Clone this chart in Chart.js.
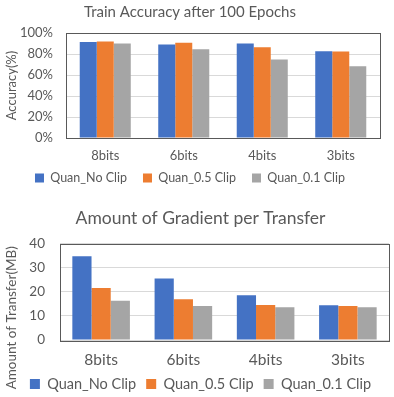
<!DOCTYPE html>
<html><head><meta charset="utf-8">
<script src="https://cdn.jsdelivr.net/npm/chart.js@4/dist/chart.umd.min.js"></script>
<style>
html,body{margin:0;padding:0;background:#fff;}
#w1{position:absolute;left:0;top:0;width:394px;height:200px;}
#w2{position:absolute;left:0;top:200px;width:394px;height:197px;}
</style></head><body>
<div id="w1"><canvas id="c1"></canvas></div>
<div id="w2"><canvas id="c2"></canvas></div>
<script>
const categories = ['8bits','6bits','4bits','3bits'];
const seriesNames = ['Quan_No Clip','Quan_0.5 Clip','Quan_0.1 Clip'];
const colors = ['#4472C4','#ED7D31','#A5A5A5'];
const accNoClip = [91.4, 89.0, 90.0, 82.6];
const acc05Clip = [91.8, 90.8, 86.4, 82.3];
const acc01Clip = [89.9, 84.5, 74.7, 68.3];
const mbNoClip = [34.7, 25.5, 18.6, 14.4];
const mb05Clip = [21.6, 16.9, 14.5, 14.1];
const mb01Clip = [16.3, 14.1, 13.6, 13.6];
const accTicks = [0, 20, 40, 60, 80, 100];
const mbTicks = [0, 10, 20, 30, 40];

const txt = '#595959';
const FF = 'Lato, "Noto Sans", sans-serif';

const framePlugin = {
  id: 'frame',
  afterDraw(chart) {
    const a = chart.chartArea, ctx = chart.ctx;
    ctx.save();
    ctx.strokeStyle = '#595959';
    ctx.lineWidth = 1;
    ctx.strokeRect(Math.round(a.left) + 0.5, Math.round(a.top) + 0.5, Math.round(a.right - a.left), Math.round(a.bottom - a.top));
    const o = chart.options.plugins.frame || {};
    if (o.ytitle) {
      ctx.translate(o.tx, a.top + (a.bottom - a.top) / 2 + o.dy);
      ctx.rotate(-Math.PI / 2);
      ctx.fillStyle = txt;
      ctx.font = o.font;
      ctx.textAlign = 'center';
      ctx.textBaseline = 'middle';
      ctx.fillText(o.ytitle, 0, 0);
    }
    ctx.restore();
  }
};

function ds(a, b, c, cp) {
  return [a, b, c].map((d, i) => ({
    label: seriesNames[i], data: d, backgroundColor: colors[i],
    borderWidth: 0, barPercentage: 1, categoryPercentage: cp
  }));
}
function fixX(h) {
  return s => { s.height = h; s._computeLabelArea = () => undefined; };
}

new Chart(document.getElementById('c1'), {
  type: 'bar',
  data: { labels: categories, datasets: ds(accNoClip, acc05Clip, acc01Clip, 0.65) },
  options: {
    responsive: true, maintainAspectRatio: false, animation: false,
    layout: { padding: { left: 0, right: 14, top: 0, bottom: 5.75 } },
    plugins: {
      title: { display: true, text: 'Train Accuracy after 100 Epochs', color: txt, font: { family: FF, size: 15, weight: 'normal' }, padding: { top: 3, bottom: 12 } },
      legend: { position: 'bottom', labels: { color: txt, boxWidth: 9, boxHeight: 9, padding: 16, font: { family: FF, size: 12.5 } } },
      tooltip: { enabled: false },
      frame: {}
    },
    scales: {
      x: {
        grid: { display: false, drawTicks: false }, border: { display: false },
        ticks: { color: txt, font: { family: FF, size: 13 }, padding: 10, autoSkip: false, maxRotation: 0 },
        afterFit: fixX(17.75)
      },
      y: {
        min: 0, max: 100,
        afterBuildTicks: s => { s.ticks = accTicks.map(v => ({ value: v })); },
        afterFit: s => { s.width = 66; },
        ticks: { color: txt, font: { family: FF, size: 13 }, callback: v => v + '%', padding: 13, autoSkip: false },
        grid: { color: '#D9D9D9', drawTicks: false },
        border: { display: false },
        title: { display: true, text: 'Accuracy(%)', color: txt, font: { family: FF, size: 13 }, padding: { top: 4, bottom: 0 } }
      }
    }
  },
  plugins: [framePlugin]
});

new Chart(document.getElementById('c2'), {
  type: 'bar',
  data: { labels: categories, datasets: ds(mbNoClip, mb05Clip, mb01Clip, 0.70) },
  options: {
    responsive: true, maintainAspectRatio: false, animation: false,
    layout: { padding: { left: 12, right: 5, top: 0, bottom: 0 } },
    plugins: {
      title: { display: true, text: 'Amount of Gradient per Transfer', color: txt, font: { family: FF, size: 17.5, weight: 'normal' }, padding: { top: 7.5, bottom: 15 } },
      legend: { position: 'bottom', maxHeight: 30.25, labels: { color: txt, boxWidth: 10, boxHeight: 10, padding: 10, font: { family: FF, size: 14.5 } } },
      tooltip: { enabled: false },
      frame: { ytitle: 'Amount of Transfer(MB)', tx: 12, dy: 26, font: '13.5px ' + FF }
    },
    scales: {
      x: {
        grid: { display: false, drawTicks: false }, border: { display: false },
        ticks: { color: txt, font: { family: FF, size: 15.5 }, padding: 10.7, autoSkip: false, maxRotation: 0 },
        afterFit: fixX(26.75)
      },
      y: {
        min: 0, max: 40,
        afterBuildTicks: s => { s.ticks = mbTicks.map(v => ({ value: v })); },
        afterFit: s => { s.width = 48; },
        ticks: { color: txt, font: { family: FF, size: 13.5 }, padding: 15, autoSkip: false },
        grid: { color: '#D9D9D9', drawTicks: false },
        border: { display: false }
      }
    }
  },
  plugins: [framePlugin]
});
</script>
</body></html>
